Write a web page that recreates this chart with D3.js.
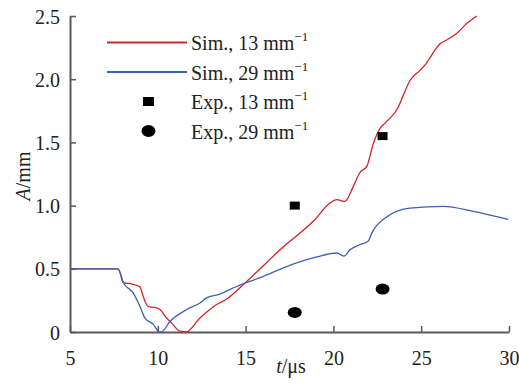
<!DOCTYPE html>
<html>
<head>
<meta charset="utf-8">
<script src="https://cdn.jsdelivr.net/npm/d3@7"></script>
<style>
  body { margin: 0; background: #fff; }
</style>
</head>
<body>
<div id="chart"></div>
<script>
// simulated curves
const sim13T = [5, 7.75, 8.04, 8.5, 8.99, 9.1, 9.46, 9.8, 10.13, 10.41, 10.79, 11.26, 11.6, 12.4, 13.35, 13.88, 15.06, 16.96, 18.95, 19.8, 20.19, 20.66, 21.13, 21.5, 21.9, 22.27, 22.65, 23.0, 23.7, 24.0, 24.36, 24.93, 25.31, 25.5, 26.07, 26.45, 27.0, 27.59, 28.16];
const sim13A = [0.5, 0.5, 0.39, 0.38, 0.357, 0.31, 0.2, 0.195, 0.178, 0.125, 0.07, 0.006, 0, 0.11, 0.217, 0.257, 0.4, 0.65, 0.89, 1.02, 1.047, 1.033, 1.15, 1.26, 1.31, 1.49, 1.61, 1.66, 1.78, 1.88, 1.99, 2.07, 2.13, 2.17, 2.28, 2.31, 2.36, 2.44, 2.5];
const sim29T = [5, 7.7, 7.85, 8.04, 8.6, 8.99, 9.27, 9.75, 10.03, 10.2, 10.7, 11.65, 12.4, 12.78, 13.45, 14.49, 15.82, 17.9, 19.05, 20.19, 20.6, 20.95, 21.5, 21.99, 22.18, 23.03, 24.36, 26.26, 27.97, 29.96];
const sim29A = [0.5, 0.5, 0.47, 0.39, 0.31, 0.2, 0.11, 0.06, 0.006, 0, 0.085, 0.178, 0.23, 0.27, 0.296, 0.36, 0.43, 0.547, 0.594, 0.625, 0.6, 0.65, 0.69, 0.72, 0.78, 0.91, 0.98, 0.994, 0.954, 0.89];
// experiments
const exp13T = [17.8, 22.8];
const exp13A = [1.0, 1.55];
const exp29T = [17.8, 22.8];
const exp29A = [0.155, 0.34];
const xTicks = [5, 10, 15, 20, 25, 30];
const yTicks = [0, 0.5, 1.0, 1.5, 2.0, 2.5];

const width = 519, height = 383;
const margin = { left: 70, right: 10, top: 16, bottom: 51 };
const red = "#d2232a", blue = "#3b62b5", axisCol = "#5a5a5a";
const serif = "Liberation Serif, Times New Roman, DejaVu Serif, serif";

const svg = d3.select("#chart").append("svg")
  .attr("width", width).attr("height", height)
  .attr("font-family", serif);

const x = d3.scaleLinear().domain([5, 30]).range([margin.left, width - margin.right]);
const y = d3.scaleLinear().domain([0, 2.5]).range([height - margin.bottom, margin.top]);

// axes, ticks pointing inward
const xAxis = svg.append("g")
  .attr("transform", "translate(0," + y(0) + ")")
  .call(d3.axisBottom(x).tickValues(xTicks).tickSizeInner(-6).tickSizeOuter(0).tickPadding(14).tickFormat(d3.format("d")));
const yAxis = svg.append("g")
  .attr("transform", "translate(" + x(5) + ",0)")
  .call(d3.axisLeft(y).tickValues(yTicks).tickSizeInner(-6).tickSizeOuter(0).tickPadding(10)
    .tickFormat(d => d === 0 ? "0" : d3.format(".1f")(d)));

[xAxis, yAxis].forEach(g => {
  g.attr("font-family", serif).attr("font-size", 20);
  g.select(".domain").attr("stroke", axisCol).attr("stroke-width", 2);
  g.selectAll(".tick line").attr("stroke", axisCol).attr("stroke-width", 1.5);
  g.selectAll(".tick text").attr("fill", "#222");
});
xAxis.selectAll(".tick text").attr("dy", "0.95em");
yAxis.selectAll(".tick text").attr("dy", "0.35em");

// lines
const line = d3.line().x(d => x(d[0])).y(d => y(d[1])).curve(d3.curveMonotoneX);
svg.append("path")
  .datum(d3.zip(sim13T, sim13A))
  .attr("d", line).attr("fill", "none").attr("stroke", red).attr("stroke-width", 1.3);
svg.append("path")
  .datum(d3.zip(sim29T, sim29A))
  .attr("d", line).attr("fill", "none").attr("stroke", blue).attr("stroke-width", 1.3);

// experiment markers
svg.selectAll(".sq").data(d3.zip(exp13T, exp13A)).enter().append("rect")
  .attr("x", d => x(d[0]) - 5).attr("y", d => y(d[1]) - 4)
  .attr("width", 10).attr("height", 8).attr("fill", "#000");
svg.selectAll(".ci").data(d3.zip(exp29T, exp29A)).enter().append("ellipse")
  .attr("cx", d => x(d[0])).attr("cy", d => y(d[1]))
  .attr("rx", 7).attr("ry", 5.5).attr("fill", "#000");

// legend
const legend = [
  { kind: "line", color: red, label: "Sim., 13" },
  { kind: "line", color: blue, label: "Sim., 29" },
  { kind: "sq", label: "Exp., 13" },
  { kind: "ci", label: "Exp., 29" }
];
legend.forEach((d, i) => {
  const cy = 42.5 + i * 29.5;
  if (d.kind === "line") {
    svg.append("line").attr("x1", 107).attr("x2", 187).attr("y1", cy).attr("y2", cy)
      .attr("stroke", d.color).attr("stroke-width", 2.2);
  } else if (d.kind === "sq") {
    svg.append("rect").attr("x", 143).attr("y", cy - 4.5).attr("width", 11).attr("height", 9).attr("fill", "#000");
  } else {
    svg.append("ellipse").attr("cx", 148.5).attr("cy", cy).attr("rx", 7).attr("ry", 6).attr("fill", "#000");
  }
  const t = svg.append("text").attr("x", 191).attr("y", cy + 7.5)
    .attr("font-size", 20).attr("fill", "#222");
  t.append("tspan").text(d.label + " mm");
  t.append("tspan").attr("dy", -9).attr("font-size", 13).text("\u22121");
});

// axis titles
const xt = svg.append("text").attr("x", 291).attr("y", 373).attr("text-anchor", "middle")
  .attr("font-size", 20).attr("fill", "#222");
xt.append("tspan").attr("font-style", "italic").text("t");
xt.append("tspan").text("/\u03bcs");
const yt = svg.append("text").attr("transform", "translate(30,176) rotate(-90)").attr("text-anchor", "middle")
  .attr("font-size", 20).attr("fill", "#222");
yt.append("tspan").attr("font-style", "italic").text("A");
yt.append("tspan").text("/mm");
</script>
</body>
</html>
